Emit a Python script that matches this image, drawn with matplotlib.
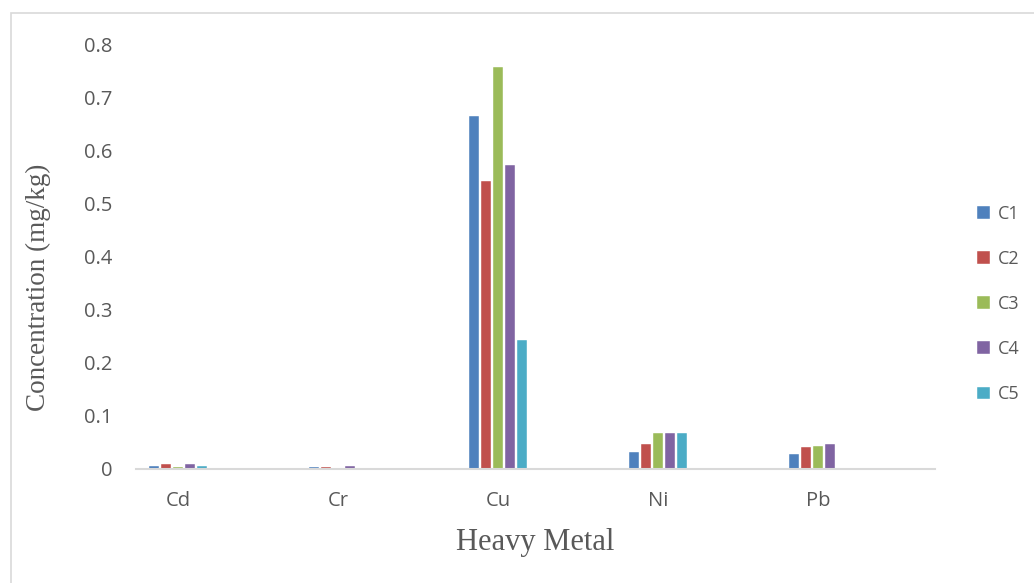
import matplotlib
matplotlib.use("Agg")
import matplotlib.pyplot as plt
from matplotlib.patches import Rectangle
import numpy as np

metals = ["Cd", "Cr", "Cu", "Ni", "Pb"]
series = ["C1", "C2", "C3", "C4", "C5"]
c1 = [0.006, 0.004, 0.665, 0.032, 0.029]
c2 = [0.009, 0.004, 0.543, 0.047, 0.042]
c3 = [0.003, 0.000, 0.757, 0.068, 0.044]
c4 = [0.009, 0.006, 0.573, 0.068, 0.047]
c5 = [0.006, 0.000, 0.242, 0.068, 0.002]
colors = ["#4f81bd", "#c0504d", "#9bbb59", "#8064a2", "#4bacc6"]

W, H = 1034, 583
fig = plt.figure(figsize=(W / 100, H / 100), dpi=100)

# chart area frame
fig.patches.append(Rectangle((11 / W, -0.1), 1.2, (H - 13) / H + 0.1,
                             transform=fig.transFigure, fill=False,
                             edgecolor="#d9d9d9", linewidth=1.2))

left, right = 136 / W, 935 / W
bottom, top = (H - 469) / H, (H - 44) / H
ax = fig.add_axes([left, bottom, right - left, top - bottom])

x = np.arange(len(metals))
pitch = 0.075
width = 0.064
for i, (name, vals) in enumerate(zip(series, [c1, c2, c3, c4, c5])):
    ax.bar(x + (i - 2) * pitch, vals, width, color=colors[i], label=name,
           edgecolor="white", linewidth=0.3)

ax.set_xlim(-0.2625, 4.73)
ax.set_ylim(0, 0.8)
ax.set_yticks(np.arange(0, 0.81, 0.1))
ax.set_yticklabels(["0"] + [f"{v:.1f}" for v in np.arange(0.1, 0.81, 0.1)])
ax.set_xticks(x)
ax.set_xticklabels(metals)

for lab in ax.get_yticklabels() + ax.get_xticklabels():
    lab.set_fontfamily(["Open Sans", "DejaVu Sans"])
    lab.set_fontsize(14.5)
    lab.set_color("#595959")

ax.tick_params(axis="both", length=0)
ax.tick_params(axis="y", pad=17)
ax.tick_params(axis="x", pad=16)
for s in ["top", "right", "left"]:
    ax.spines[s].set_visible(False)
ax.spines["bottom"].set_color("#d9d9d9")
ax.spines["bottom"].set_linewidth(1.5)

ax.set_ylabel("Concentration (mg/kg)", family=["Liberation Serif"],
              fontsize=19.5, color="#595959")
ax.yaxis.set_label_coords(-0.106, 0.428)
ax.set_xlabel("Heavy Metal", family=["Liberation Serif"],
              fontsize=22, color="#595959", labelpad=12)

leg = fig.legend(*ax.get_legend_handles_labels(), loc="center left",
                 bbox_to_anchor=(977 / W, (H - 304) / H), frameon=False,
                 prop={"family": "Open Sans", "size": 13}, handlelength=0.7,
                 handleheight=0.7, handletextpad=0.45, labelspacing=1.5,
                 borderaxespad=0, borderpad=0)
for t in leg.get_texts():
    t.set_color("#595959")

fig.savefig("out.png", dpi=100)
